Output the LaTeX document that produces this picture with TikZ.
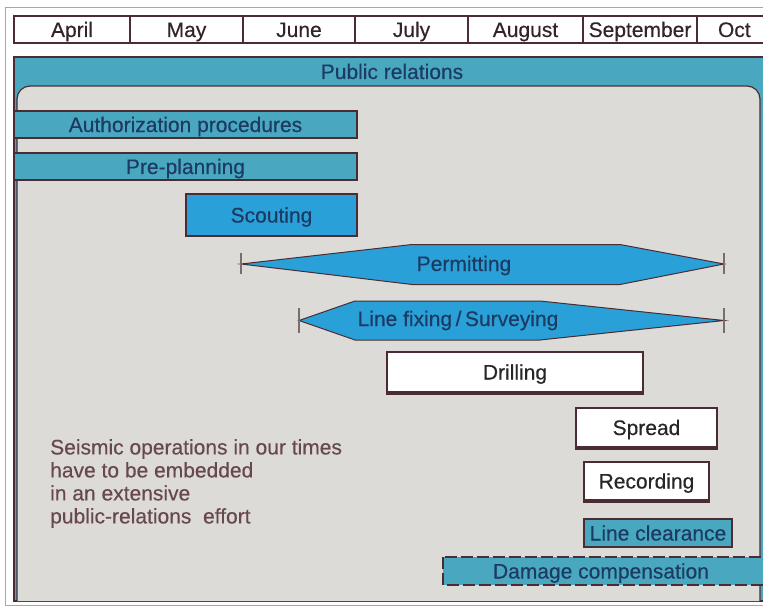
\documentclass[tikz,border=0pt]{standalone}
\usepackage{fontspec}
\setmainfont{Liberation Sans}[FakeBold=0.35]
\definecolor{tealc}{RGB}{74,167,192}
\definecolor{bluec}{RGB}{42,160,216}
\definecolor{panelc}{RGB}{221,219,215}
\definecolor{borderc}{RGB}{74,44,50}
\definecolor{navyc}{RGB}{28,58,98}
\definecolor{notec}{RGB}{104,72,80}
\definecolor{framec}{RGB}{170,166,168}
\definecolor{tickc}{RGB}{120,110,110}
\definecolor{monthc}{RGB}{50,36,40}
\begin{document}
\begin{tikzpicture}[x=1pt,y=-1pt,
  txt/.style={font=\fontsize{21}{23}\selectfont, inner sep=0pt, text height=15pt, text depth=0pt},
  notetxt/.style={font=\fontsize{21}{23}\selectfont, inner sep=0pt},
  monthcell/.style={txt, draw=borderc, line width=1.2pt, fill=white, minimum height=27pt, text=monthc},
  tealbar/.style={txt, draw=borderc, line width=1.2pt, fill=tealc, text=navyc, minimum height=27pt},
  bluebar/.style={txt, draw=borderc, line width=1.2pt, fill=bluec, text=navyc},
  whitebox/.style={txt, draw=borderc, line width=1.8pt, fill=white, text=black!85},
  hexbar/.style={draw=borderc, line width=1pt, fill=bluec},
  tickline/.style={draw=tickc, line width=1.2pt},
  thickbottom/.style={draw=borderc, line width=3.5pt}
]
\useasboundingbox (0,0) rectangle (763,607);
\clip (0,0) rectangle (763,607);

% outer frame
\draw[framec, line width=0.8pt] (5,7) rectangle (790,605);

% month header
\node[monthcell, minimum width=116pt] (apr) at (72,29.5) {April};
\node[monthcell, minimum width=113pt] (may) at (186.5,29.5) {May};
\node[monthcell, minimum width=112pt] (jun) at (299,29.5) {June};
\node[monthcell, minimum width=113pt] (jul) at (411.5,29.5) {July};
\node[monthcell, minimum width=115pt] (aug) at (525.5,29.5) {August};
\node[monthcell, minimum width=114pt] (sep) at (640,29.5) {September};
\node[monthcell, minimum width=80pt, text width=72pt, align=left] (oct) at (737,29.5) {\hspace*{17pt}Oct};

% public relations frame
\draw[draw=borderc, line width=1.2pt, fill=tealc] (14,57) rectangle (790,601);
\draw[draw=borderc, line width=1.2pt, fill=panelc, rounded corners=13pt]
  (17,601) -- (17,86) -- (760,86) -- (760,601);
\node[txt, text=navyc] (pr) at (392,71.5) {Public relations};

% bars
\node[tealbar, minimum width=343pt] (auth) at (185.5,124.5) {Authorization procedures};
\node[tealbar, minimum width=343pt] (plan) at (185.5,166.5) {Pre-planning};
\node[bluebar, minimum width=171pt, minimum height=42pt] (scout) at (271.5,215) {Scouting};

% permitting
\draw[hexbar] (241,264) -- (412,244.5) -- (620,244.5) -- (724,264) -- (620,284.5) -- (412,284.5) -- cycle;
\node[txt, text=navyc] (permit) at (464,263.5) {Permitting};
\coordinate (pl) at (241,264);
\coordinate (pr2) at (724,264);
\draw[tickline] ([yshift=-10pt]pl) -- ([yshift=11pt]pl);
\draw[tickline] ([yshift=-10pt]pr2) -- ([yshift=11pt]pr2);

% line fixing
\draw[hexbar] (299,320.5) -- (355,301) -- (540,301) -- (724,320.5) -- (540,340) -- (355,340) -- cycle;
\node[txt, text=navyc] (survey) at (458,318.5) {Line fixing\,/\,Surveying};
\coordinate (ll) at (299,320.5);
\coordinate (lr) at (724,320.5);
\draw[tickline] ([yshift=-12pt]ll) -- ([yshift=13pt]ll);
\draw[tickline] ([yshift=-12pt]lr) -- ([yshift=13pt]lr);

% white boxes
\node[whitebox, minimum width=256pt, minimum height=40pt] (drill) at (515,372) {Drilling};
\draw[thickbottom] (drill.south west) -- (drill.south east);
\node[whitebox, minimum width=141pt, minimum height=39pt] (spread) at (646.5,427.5) {Spread};
\draw[thickbottom] (spread.south west) -- (spread.south east);
\node[whitebox, minimum width=125pt, minimum height=38pt] (rec) at (646.5,481) {Recording};
\draw[thickbottom] (rec.south west) -- (rec.south east);

% line clearance
\node[tealbar, minimum width=148pt, minimum height=28pt] (clear) at (658,533) {Line clearance};

% damage compensation
\draw[draw=borderc, line width=1.2pt, fill=tealc, dash pattern=on 12pt off 4pt] (443,557) rectangle (790,585);
\node[txt, text=navyc] (damage) at (601,571) {Damage compensation};

% note
\node[notetxt, text=notec, align=left, anchor=north west] (note) at (50,439)
  {Seismic operations in our times\\have to be embedded\\in an extensive\\public-relations\ \ effort};
\end{tikzpicture}
\end{document}
